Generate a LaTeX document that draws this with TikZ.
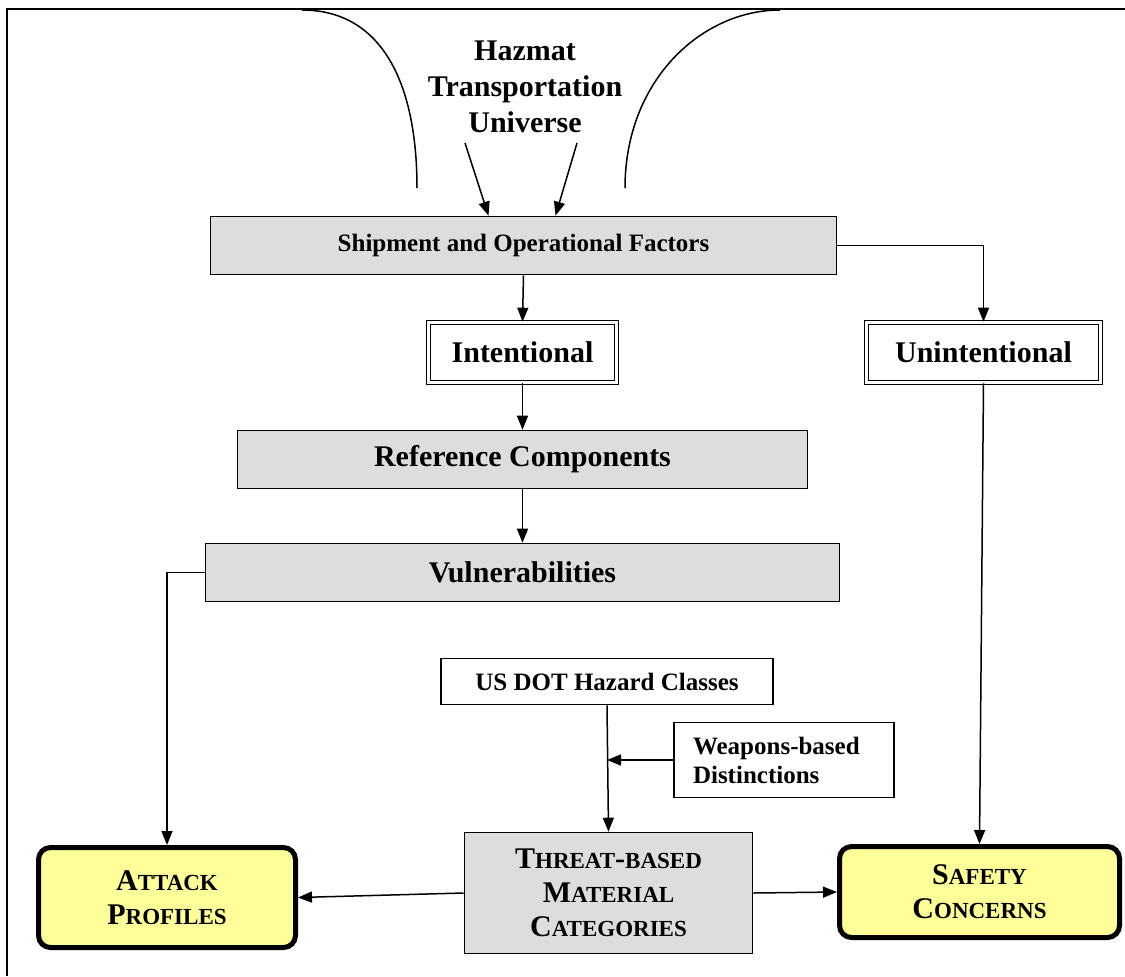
\documentclass[tikz,border=0pt]{standalone}
\usepackage{fontspec}
\setmainfont{Liberation Serif}
\usetikzlibrary{arrows.meta,calc}
\definecolor{boxgray}{HTML}{DDDDDD}
\definecolor{paleyellow}{HTML}{FFFF99}
\newcommand{\bigsc}[2]{#1{\fontsize{11.5}{17}\selectfont #2}}

\begin{document}
\begin{tikzpicture}[x=0.5pt,y=-0.5pt, >={Triangle[length=7pt,width=5.5pt]}]
 \useasboundingbox (0,0) rectangle (1125,976);
 \draw[line width=1.3pt] (1125,9) -- (7,9) -- (7,976);
 \begin{scope}[every node/.style={draw, line width=0.8pt, inner sep=0pt, align=center},
   graybox/.style={fill=boxgray, font=\bfseries\fontsize{15}{17}\selectfont},
   whitebox/.style={fill=white, font=\bfseries\fontsize{12.5}{14.5}\selectfont},
   twobox/.style={double, double distance=1.2pt, font=\bfseries\fontsize{15}{17}\selectfont},
   endbox/.style={fill=paleyellow, line width=2.5pt, rounded corners=6pt, font=\bfseries\fontsize{15}{17}\selectfont}]
   \node (universe) [draw=none, font=\bfseries\fontsize{15}{18}\selectfont] at (525,87) {Hazmat\\Transportation\\Universe};
   \node (ship) [graybox, minimum width=313pt, minimum height=29pt, font=\bfseries\fontsize{12.5}{14}\selectfont] at (523.5,245.5) {Shipment and Operational Factors};
   \node (intent) [twobox, minimum width=94pt, minimum height=30pt] at (522.5,352.5) {Intentional};
   \node (unintent) [twobox, minimum width=117pt, minimum height=30pt] at (983.5,352.5) {Unintentional};
   \node (refcomp) [graybox, minimum width=285pt, minimum height=29pt] at (522.5,459.5) {Reference Components};
   \node (vuln) [graybox, minimum width=317pt, minimum height=29pt] at (522.5,572.5) {Vulnerabilities};
   \node (usdot) [whitebox, minimum width=166pt, minimum height=23pt] at (607,681.5) {US DOT Hazard Classes};
   \node (weapons) [whitebox, minimum width=110pt, minimum height=37.5pt, text width=91pt, align=left] at (784,760) {Weapons-based\\Distinctions};
   \node (threat) [graybox, minimum width=144pt, minimum height=60.5pt] at (608.5,893) {\bigsc{T}{HREAT}-\bigsc{}{BASED}\\\bigsc{M}{ATERIAL}\\\bigsc{C}{ATEGORIES}};
   \node (attack) [endbox, minimum width=128.5pt, minimum height=50pt] at (167,897.5) {\bigsc{A}{TTACK}\\\bigsc{P}{ROFILES}};
   \node (safety) [endbox, minimum width=140pt, minimum height=45.5pt] at (979.5,892) {\bigsc{S}{AFETY}\\\bigsc{C}{ONCERNS}};
 \end{scope}
 \coordinate (hl) at (465,143);
 \coordinate (hr) at (577,143);
 \coordinate (join) at (weapons.west -| usdot.south);
 \begin{scope}[line width=0.75pt]
   \draw (302,10) .. controls (380,10) and (417,80) .. (417,188);
   \draw (780,10) .. controls (702,10) and (625,80) .. (625,188);
   \draw[->] (hl) -- ($(ship.north)+(-35,0)$);
   \draw[->] (hr) -- ($(ship.north)+(32,0)$);
   \draw[->] (ship.south) -- (intent.north);
   \draw[->] (ship.east) -| (unintent.north);
   \draw[->] (intent.south) -- (refcomp.north);
   \draw[->] (refcomp.south) -- (vuln.north);
   \draw[->] (vuln.west) -| (attack.north);
   \draw[->] (unintent.south) -- (safety.north);
   \draw[->] (usdot.south) -- (threat.north);
   \draw[->] (weapons.west) -- (join);
   \draw[->] (threat.west) -- (attack.east);
   \draw[->] (threat.east) -- (safety.west);
 \end{scope}
\end{tikzpicture}
\end{document}
